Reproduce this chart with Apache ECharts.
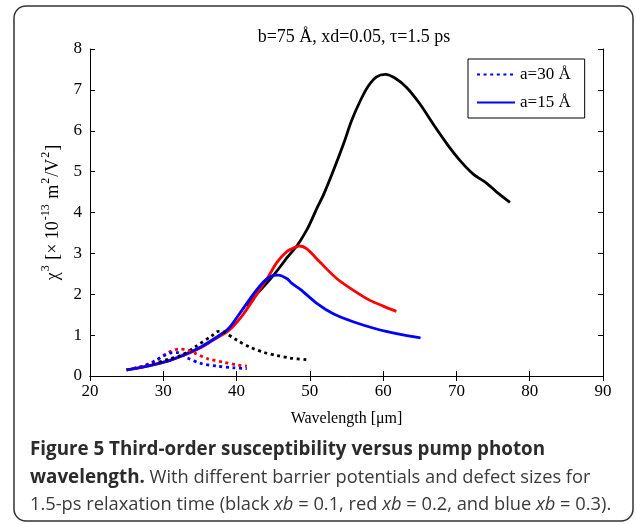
<!DOCTYPE html>
<html>
<head>
<meta charset="utf-8">
<script src="https://cdn.jsdelivr.net/npm/echarts@6/dist/echarts.min.js"></script>
<style>
html,body{margin:0;padding:0;background:#fff;}
#c{width:636px;height:524px;}
</style>
</head>
<body>
<div id="c"></div>
<script>
// ---- data ----
var xTicks = [20, 30, 40, 50, 60, 70, 80, 90];
var yTicks = [0, 1, 2, 3, 4, 5, 6, 7, 8];

// a = 15 Å (solid)
var blackSolidX = [41.3, 43.4, 45.2, 47.0, 48.3, 49.6, 50.3, 51.0, 51.9, 53.2, 54.6, 55.7, 56.9, 58.0, 59.1, 60.3, 61.6, 63.2, 65.0, 66.8, 68.7, 70.5, 72.3, 74.1, 75.5, 77.3];
var blackSolidY = [1.72, 2.13, 2.50, 2.92, 3.20, 3.58, 3.84, 4.12, 4.45, 5.02, 5.68, 6.25, 6.74, 7.10, 7.32, 7.38, 7.29, 7.06, 6.66, 6.17, 5.68, 5.27, 4.94, 4.72, 4.50, 4.25];

var redSolidX = [25, 27, 29, 31, 33, 35.3, 37.1, 38.9, 40.7, 42.5, 44.3, 45.5, 46.9, 48.3, 48.6, 49.6, 51.4, 53.7, 56.0, 58.2, 60.0, 61.8];
var redSolidY = [0.15, 0.21, 0.29, 0.39, 0.52, 0.71, 0.91, 1.11, 1.46, 1.93, 2.42, 2.78, 3.05, 3.17, 3.18, 3.11, 2.78, 2.38, 2.09, 1.85, 1.71, 1.58];

var blueSolidX = [25, 27, 29, 31, 33, 35.3, 37.1, 38.9, 40.7, 42.5, 43.9, 45.0, 45.7, 46.9, 47.5, 48.7, 51.0, 53.2, 56.0, 59.1, 62.0, 65.1];
var blueSolidY = [0.15, 0.21, 0.29, 0.39, 0.53, 0.73, 0.93, 1.16, 1.60, 2.05, 2.34, 2.46, 2.47, 2.38, 2.27, 2.12, 1.77, 1.52, 1.32, 1.15, 1.03, 0.93];

// a = 30 Å (dotted)
var blackDotX = [25, 28.0, 30.7, 32.6, 34.4, 36.6, 37.5, 38.3, 40.1, 41.9, 43.7, 45.5, 47.3, 49.6];
var blackDotY = [0.15, 0.27, 0.41, 0.52, 0.72, 0.98, 1.09, 1.07, 0.87, 0.70, 0.58, 0.50, 0.44, 0.40];

var redDotX = [25, 27, 29.0, 30.7, 32.3, 33.2, 34.3, 36.1, 38.2, 40.1, 41.4];
var redDotY = [0.15, 0.23, 0.38, 0.58, 0.66, 0.64, 0.56, 0.42, 0.34, 0.27, 0.24];

var blueDotX = [25, 27, 28.5, 29.9, 31.3, 32.0, 33.3, 35.1, 37.4, 39.6, 41.4];
var blueDotY = [0.15, 0.22, 0.33, 0.48, 0.57, 0.57, 0.44, 0.31, 0.24, 0.20, 0.18];

var legendNames = ['a=30 Å', 'a=15 Å'];
var titleText = 'b=75 Å, xd=0.05, τ=1.5 ps';
var xName = 'Wavelength [μm]';

// ---- helpers ----
function pairs(xs, ys) { return xs.map(function (x, i) { return [x, ys[i]]; }); }
var serif = 'Liberation Serif';
var capFont = 'Open Sans';

function line(name, xs, ys, color, dotted) {
  return {
    name: name, type: 'line', data: pairs(xs, ys),
    showSymbol: false, symbol: 'none', smooth: 0.3,
    lineStyle: { color: color, width: 2.8, type: dotted ? [3, 3.6] : 'solid', cap: 'butt' },
    itemStyle: { color: color },
    z: dotted ? 3 : 2, animation: false
  };
}

var chart = echarts.init(document.getElementById('c'), null, { renderer: 'canvas' });

var option = {
  backgroundColor: '#fff',
  animation: false,
  title: {
    text: titleText, left: 349, top: 23, textAlign: 'center',
    textStyle: { fontFamily: serif, fontSize: 18, fontWeight: 'normal', color: '#000' }
  },
  grid: { left: 90, right: 33, top: 49, bottom: 148, show: false },
  legend: {
    data: legendNames, orient: 'vertical', left: 468, top: 59,
    itemWidth: 38, itemHeight: 14, itemGap: 11,
    padding: [7, 14, 7, 8],
    backgroundColor: '#fff', borderColor: '#000', borderWidth: 1,
    itemStyle: { opacity: 0 },
    textStyle: { fontFamily: serif, fontSize: 17, color: '#000' }
  },
  xAxis: [{
    type: 'value', min: 20, max: 90, interval: 10, position: 'bottom',
    name: xName, nameLocation: 'middle', nameGap: 35,
    nameTextStyle: { fontFamily: serif, fontSize: 16, color: '#000' },
    axisLine: { show: true, lineStyle: { color: '#000', width: 1 } },
    axisTick: { show: true, inside: true, length: 5, lineStyle: { color: '#000' } },
    axisLabel: { fontFamily: serif, fontSize: 17, color: '#000', margin: 7,
      formatter: function (v) { return xTicks.indexOf(v) >= 0 ? String(v) : ''; } },
    splitLine: { show: false }
  }, {
    type: 'value', min: 20, max: 90, interval: 10, position: 'top',
    axisLine: { show: true, lineStyle: { color: '#000', width: 1 } },
    axisTick: { show: true, inside: true, length: 5, lineStyle: { color: '#000' } },
    axisLabel: { show: false }, splitLine: { show: false }
  }],
  yAxis: [{
    type: 'value', min: 0, max: 8, interval: 1, position: 'left',
    name: '{n|χ}{s|3}{n| [× 10}{s|-13}{n| m}{s|2}{n|/V}{s|2}{n|]}',
    nameLocation: 'middle', nameGap: 28, nameRotate: 90,
    nameTextStyle: {
      fontFamily: serif, color: '#000',
      rich: {
        n: { fontFamily: serif, fontSize: 18, color: '#000', lineHeight: 22, verticalAlign: 'bottom' },
        s: { fontFamily: serif, fontSize: 12, color: '#000', lineHeight: 22, verticalAlign: 'top', padding: [0, 1, 0, 1] }
      }
    },
    axisLine: { show: true, lineStyle: { color: '#000', width: 1 } },
    axisTick: { show: true, inside: true, length: 5, lineStyle: { color: '#000' } },
    axisLabel: { fontFamily: serif, fontSize: 17, color: '#000', margin: 8,
      formatter: function (v) { return yTicks.indexOf(v) >= 0 ? String(v) : ''; } },
    splitLine: { show: false }
  }, {
    type: 'value', min: 0, max: 8, interval: 1, position: 'right',
    axisLine: { show: true, lineStyle: { color: '#000', width: 1 } },
    axisTick: { show: true, inside: true, length: 5, lineStyle: { color: '#000' } },
    axisLabel: { show: false }, splitLine: { show: false }
  }],
  series: [
    line('a=15 Å, xb=0.1', blackSolidX, blackSolidY, '#000000', false),
    line('a=15 Å, xb=0.2', redSolidX, redSolidY, '#ff0000', false),
    line('a=15 Å', blueSolidX, blueSolidY, '#0000ff', false),
    line('a=30 Å, xb=0.1', blackDotX, blackDotY, '#000000', true),
    line('a=30 Å, xb=0.2', redDotX, redDotY, '#ff0000', true),
    line('a=30 Å', blueDotX, blueDotY, '#0000ff', true)
  ],
  graphic: [
    { type: 'rect', z: -10, silent: true,
      shape: { x: 14, y: 6, width: 619, height: 515, r: 12 },
      style: { fill: 'none', stroke: '#333', lineWidth: 1.5 } },
    { type: 'text', silent: true, x: 30, y: 449.5,
      style: { text: '{b|Figure 5 Third-order susceptibility versus pump photon}',
        verticalAlign: 'middle',
        rich: { b: { fontFamily: capFont, fontSize: 18.8, fontWeight: 'bold', fill: '#2b2b2b' } } } },
    { type: 'text', silent: true, x: 30, y: 477.5,
      style: { text: '{b|wavelength.}{r| With different barrier potentials and defect sizes for}',
        verticalAlign: 'middle',
        rich: {
          b: { fontFamily: capFont, fontSize: 18.8, fontWeight: 'bold', fill: '#2b2b2b' },
          r: { fontFamily: capFont, fontSize: 18.3, fill: '#3a3a3a' } } } },
    { type: 'text', silent: true, x: 30, y: 504.5,
      style: { text: '{r|1.5-ps relaxation time (black }{i|xb}{r| = 0.1, red }{i|xb}{r| = 0.2, and blue }{i|xb}{r| = 0.3).}',
        verticalAlign: 'middle',
        rich: {
          r: { fontFamily: capFont, fontSize: 18.3, fill: '#3a3a3a' },
          i: { fontFamily: capFont, fontSize: 18.3, fontStyle: 'italic', fill: '#3a3a3a' } } } }
  ]
};
chart.setOption(option);
</script>
</body>
</html>
